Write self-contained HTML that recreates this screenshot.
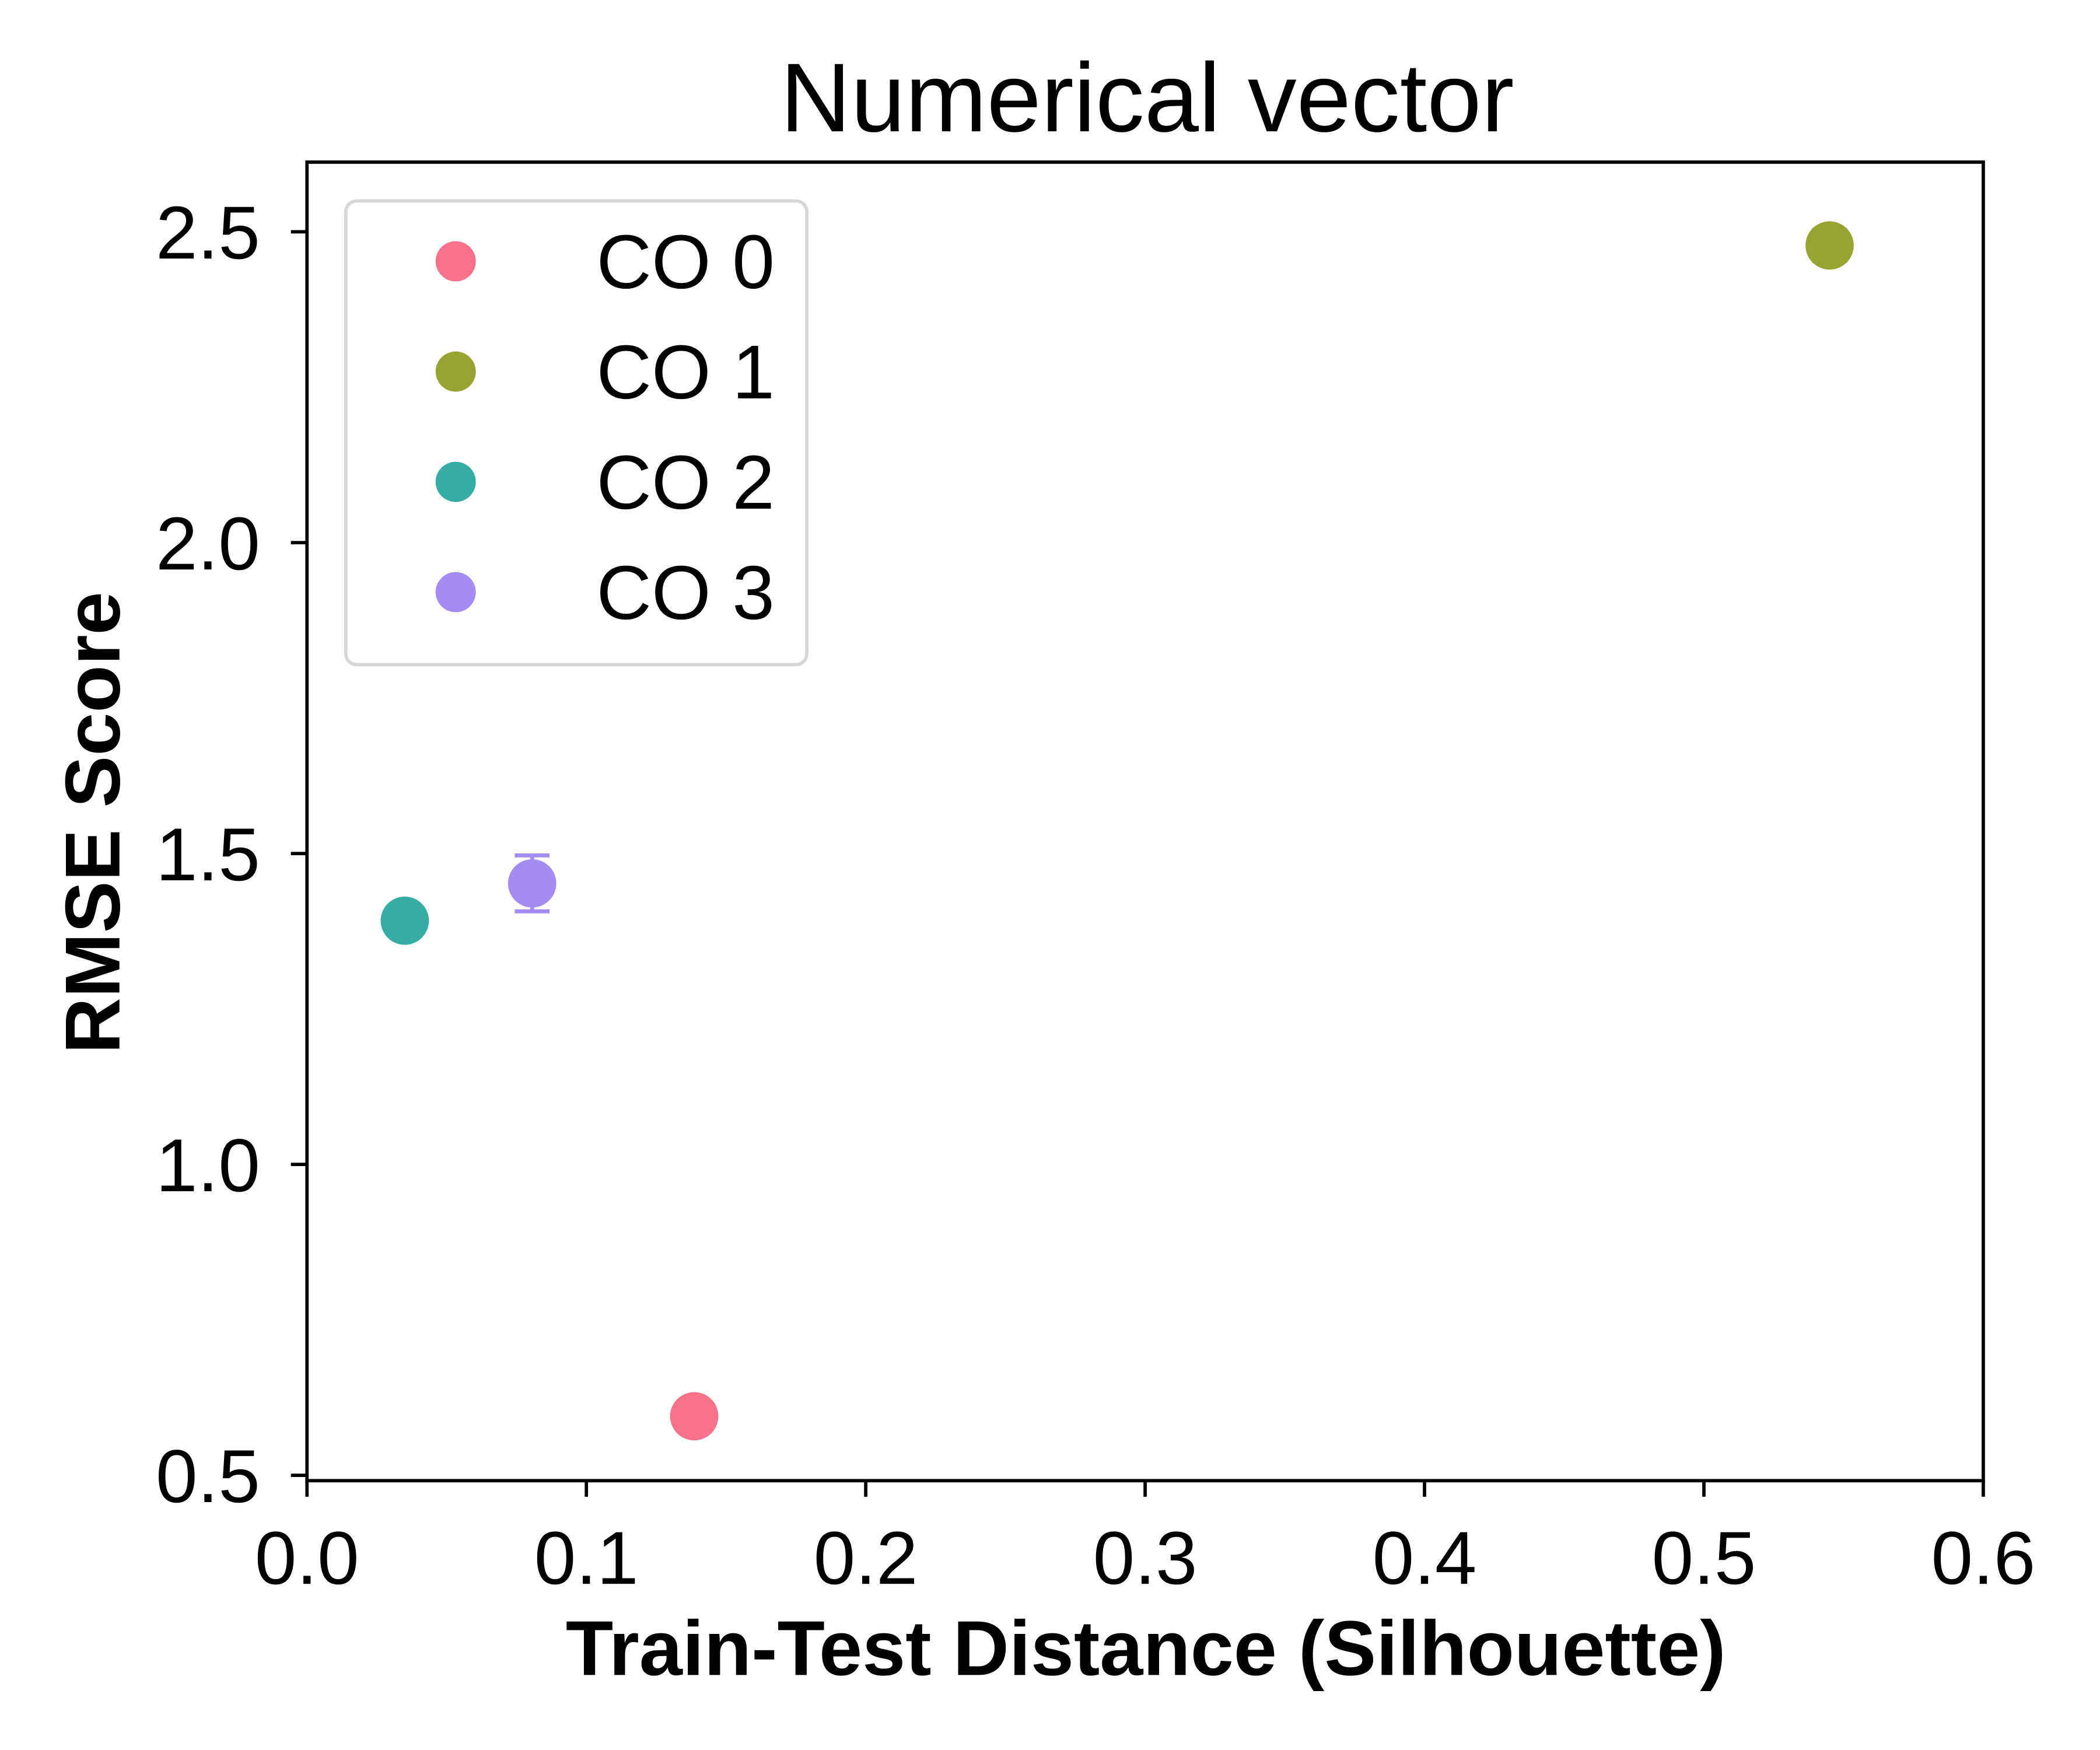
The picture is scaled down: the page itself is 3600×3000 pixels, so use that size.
<!DOCTYPE html>
<html><head><meta charset="utf-8"><style>
html,body{margin:0;padding:0;background:#fff}
svg{display:block}
text{font-family:"Liberation Sans",Arial,sans-serif;fill:#000}
</style></head><body>
<svg id="chart" xmlns="http://www.w3.org/2000/svg" width="3600" height="3000" viewBox="0 0 1567 1306">
<rect width="1567" height="1306" fill="#fff"/>
<g id="plot"></g>
</svg>
<script>
const categories = ["CO 0","CO 1","CO 2","CO 3"];
const xValues = [0.1386, 0.545, 0.035, 0.0806];
const yValues = [0.595, 2.478, 1.392, 1.452];
const yErrors = [0.0, 0.025, 0.0, 0.045];
const colors = ["#f77189","#97a431","#36ada4","#a48cf4"];
const xTicks = [0,0.1,0.2,0.3,0.4,0.5,0.6];
const xTickLabels = ["0.0","0.1","0.2","0.3","0.4","0.5","0.6"];
const yTicks = [0.5,1.0,1.5,2.0,2.5];
const yTickLabels = ["0.5","1.0","1.5","2.0","2.5"];

const L=229,R=1480,T=121,B=1105;
const xMin=0,xMax=0.6,yMin=0.4914,yMax=2.612;
const sx=v=>L+(v-xMin)/(xMax-xMin)*(R-L);
const sy=v=>B-(v-yMin)/(yMax-yMin)*(B-T);
const NS="http://www.w3.org/2000/svg";
const g=document.getElementById('plot');
function mk(tag,attrs,text){const e=document.createElementNS(NS,tag);for(const k in attrs)e.setAttribute(k,attrs[k]);if(text!==undefined)e.textContent=text;g.appendChild(e);return e;}

xTicks.forEach((v,i)=>{
  const t=mk('line',{x1:sx(v),x2:sx(v),y1:B,y2:B+12,stroke:'#000','stroke-width':2.5});
  
  
  const l=mk('text',{x:sx(v),y:1182,'font-size':56,'text-anchor':'middle'},xTickLabels[i]);
  
  
});
yTicks.forEach((v,i)=>{
  const t=mk('line',{x1:L-12,x2:L,y1:sy(v),y2:sy(v),stroke:'#000','stroke-width':2.5});
  
  
  const l=mk('text',{x:194,y:sy(v)+20,'font-size':56,'text-anchor':'end'},yTickLabels[i]);
  
  
});

categories.forEach((c,i)=>{
  const x=sx(xValues[i]),y=sy(yValues[i]);
  if(yErrors[i]>0){
    const y1=sy(yValues[i]+yErrors[i]),y2=sy(yValues[i]-yErrors[i]);
    const e=mk('path',{d:`M${x},${y1}V${y2}M${x-13},${y1}H${x+13}M${x-13},${y2}H${x+13}`,stroke:colors[i],'stroke-width':3,fill:'none'});
    
    
  }
  const p=mk('circle',{cx:x,cy:y,r:18,fill:colors[i]});
  
  
});

const f=mk('rect',{x:L,y:T,width:R-L,height:B-T,fill:'none',stroke:'#000','stroke-width':2.5});



const lb=mk('rect',{x:258,y:150,width:344,height:346,rx:8,fill:'#fff',stroke:'#d6d6d6','stroke-width':2.5});


categories.forEach((c,i)=>{
  const yy=195+i*82.3;
  const m=mk('circle',{cx:340,cy:yy,r:15,fill:colors[i]});
  
  
  const t=mk('text',{x:445,y:yy+20,'font-size':57},c);
  
  
});

const ti=mk('text',{x:856,y:98,'font-size':73,'text-anchor':'middle'},'Numerical vector');


const xt=mk('text',{x:855,y:1250,'font-size':58,'font-weight':'bold','text-anchor':'middle'},'Train-Test Distance (Silhouette)');


const yt=mk('text',{x:0,y:0,'font-size':58,'font-weight':'bold','text-anchor':'middle',transform:'translate(89,614) rotate(-90)'},'RMSE Score');


</script>
</body></html>
